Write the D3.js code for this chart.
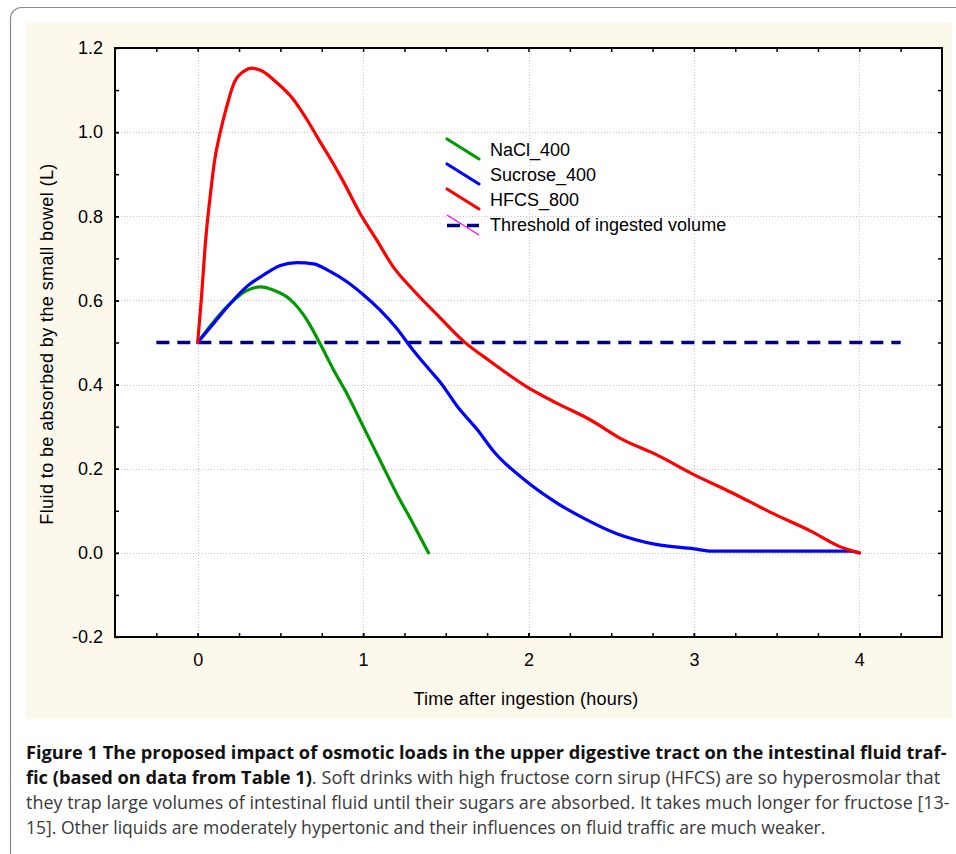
<!DOCTYPE html>
<html>
<head>
<meta charset="utf-8">
<script src="https://cdn.jsdelivr.net/npm/d3@7"></script>
<style>
  html, body { margin: 0; padding: 0; background: #fff; }
  svg { display: block; }
  .ax text { font-family: "Liberation Sans", Arial, sans-serif; font-size: 18px; fill: #000; }
</style>
</head>
<body>
<div id="chart"></div>
<script>
/* Fluid to be absorbed by the small bowel — NaCl / sucrose / HFCS curves
   values (hours, litres) */
const naclT = [0, 0.10, 0.20, 0.30, 0.38, 0.46, 0.56, 0.66, 0.74, 0.82, 0.90, 1.00, 1.10, 1.20, 1.30, 1.395];
const naclV = [0.5, 0.551, 0.594, 0.624, 0.632, 0.624, 0.602, 0.554, 0.497, 0.436, 0.380, 0.301, 0.222, 0.143, 0.071, 0.0];

const sucroseT = [0, 0.10, 0.20, 0.30, 0.40, 0.50, 0.60, 0.70, 0.80, 0.90, 1.00, 1.10, 1.20, 1.30, 1.40, 1.47,
  1.57, 1.69, 1.79, 2.00, 2.17, 2.33, 2.53, 2.77, 3.00, 3.11, 3.95, 4.00];
const sucroseV = [0.5, 0.547, 0.594, 0.634, 0.661, 0.683, 0.690, 0.687, 0.669, 0.645, 0.614, 0.578, 0.535, 0.483, 0.436, 0.404,
  0.348, 0.293, 0.241, 0.166, 0.119, 0.083, 0.046, 0.020, 0.0095, 0.004, 0.004, 0.0];

const hfcsT = [0, 0.02, 0.05, 0.08, 0.10, 0.14, 0.17, 0.22, 0.28, 0.33, 0.38, 0.48, 0.58, 0.66, 0.74, 0.82, 0.88, 0.98,
  1.08, 1.18, 1.30, 1.45, 1.61, 1.77, 2.00, 2.17, 2.37, 2.57, 2.77, 3.00, 3.23, 3.47, 3.71, 3.875, 4.00];
const hfcsV = [0.5, 0.594, 0.752, 0.863, 0.927, 1.006, 1.053, 1.117, 1.145, 1.152, 1.147, 1.117, 1.077, 1.030, 0.977, 0.925, 0.883, 0.808,
  0.745, 0.681, 0.626, 0.565, 0.502, 0.455, 0.392, 0.356, 0.317, 0.269, 0.234, 0.186, 0.143, 0.095, 0.051, 0.016, 0.0];

const thresholdT = [-0.25, 4.25];
const thresholdV = [0.5, 0.5];

const seriesNames = ["NaCl_400", "Sucrose_400", "HFCS_800", "Threshold of ingested volume"];
const seriesColors = ["#009a00", "#0000ff", "#ff0000", "#000080"];

const xTicks = [0, 1, 2, 3, 4];
const yTicks = [-0.2, 0.0, 0.2, 0.4, 0.6, 0.8, 1.0, 1.2];
const xMinor = d3.range(-0.25, 4.3, 0.25);
const yMinor = d3.range(-0.1, 1.15, 0.1);

const xTitle = "Time after ingestion (hours)";
const yTitle = "Fluid to be absorbed by the small bowel (L)";

const captionBold1 = "Figure 1 The proposed impact of osmotic loads in the upper digestive tract on the intestinal fluid traf-";
const captionBold2 = "fic (based on data from Table 1)";
const captionRest2 = ". Soft drinks with high fructose corn sirup (HFCS) are so hyperosmolar that";
const captionLine3 = "they trap large volumes of intestinal fluid until their sugars are absorbed. It takes much longer for fructose [13-";
const captionLine4 = "15]. Other liquids are moderately hypertonic and their influences on fluid traffic are much weaker.";

(function () {
  const W = 956, H = 854;
  const P = { l: 115, r: 942, t: 48, b: 637 };

  const svg = d3.select("#chart").append("svg")
    .attr("width", W).attr("height", H).attr("viewBox", `0 0 ${W} ${H}`);

  // outer rounded box (runs off the right / bottom edges) and the cream panel
  svg.append("rect")
    .attr("x", 10.5).attr("y", 7.5).attr("width", 980).attr("height", 900)
    .attr("rx", 11).attr("fill", "none").attr("stroke", "#8a8a8a").attr("stroke-width", 1.2);
  svg.append("rect")
    .attr("x", 25).attr("y", 23).attr("width", 927).attr("height", 696)
    .attr("fill", "#fdf8ec");

  const x = d3.scaleLinear().domain([-0.5, 4.5]).range([P.l, P.r]);
  const y = d3.scaleLinear().domain([-0.2, 1.2]).range([P.b, P.t]);

  svg.append("rect")
    .attr("x", P.l).attr("y", P.t).attr("width", P.r - P.l).attr("height", P.b - P.t)
    .attr("fill", "#fff");

  /* dotted grid */
  const grid = svg.append("g").attr("stroke", "#c4c4c4").attr("stroke-width", 1).attr("stroke-dasharray", "1,2");
  grid.selectAll("line.gx").data(xTicks).join("line")
    .attr("x1", d => Math.round(x(d)) + 0.5).attr("x2", d => Math.round(x(d)) + 0.5)
    .attr("y1", P.t).attr("y2", P.b);
  grid.selectAll("line.gy").data(yTicks.filter(v => v > -0.2 && v < 1.2)).join("line")
    .attr("y1", d => Math.round(y(d)) + 0.5).attr("y2", d => Math.round(y(d)) + 0.5)
    .attr("x1", P.l).attr("x2", P.r);

  /* inward ticks on all four sides */
  const tk = 4;
  const mk = (gen) => gen.tickSize(-tk).tickFormat("");
  svg.append("g").attr("class", "ax").attr("transform", `translate(0,${P.b})`)
    .call(mk(d3.axisBottom(x).tickValues(xMinor)));
  svg.append("g").attr("class", "ax").attr("transform", `translate(0,${P.t})`)
    .call(mk(d3.axisTop(x).tickValues(xMinor)));
  svg.append("g").attr("class", "ax").attr("transform", `translate(${P.l},0)`)
    .call(mk(d3.axisLeft(y).tickValues(yMinor)));
  svg.append("g").attr("class", "ax").attr("transform", `translate(${P.r},0)`)
    .call(mk(d3.axisRight(y).tickValues(yMinor)));

  const fmtY = v => (v < 0 ? "-" : "") + Math.abs(v).toFixed(1);
  svg.append("g").attr("class", "ax").attr("transform", `translate(0,${P.b})`)
    .call(d3.axisBottom(x).tickValues(xTicks).tickSize(-tk).tickPadding(16).tickFormat(d3.format("d")));
  svg.append("g").attr("class", "ax").attr("transform", `translate(${P.l},0)`)
    .call(d3.axisLeft(y).tickValues(yTicks).tickSize(-tk).tickPadding(12).tickFormat(fmtY));
  svg.selectAll(".ax .domain").remove();
  svg.selectAll(".ax line").attr("stroke", "#000").attr("stroke-width", 1.5);

  svg.append("rect")
    .attr("x", P.l).attr("y", P.t).attr("width", P.r - P.l).attr("height", P.b - P.t)
    .attr("fill", "none").attr("stroke", "#000").attr("stroke-width", 2);

  /* series */
  const line = d3.line().x(d => x(d[0])).y(d => y(d[1])).curve(d3.curveMonotoneX);
  const zipped = (ts, vs) => ts.map((t, i) => [t, vs[i]]);
  const plot = svg.append("g").attr("fill", "none").attr("stroke-linejoin", "round").attr("stroke-linecap", "round");

  plot.append("path").datum(zipped(thresholdT, thresholdV))
    .attr("d", d3.line().x(d => x(d[0])).y(d => y(d[1])))
    .attr("stroke", seriesColors[3]).attr("stroke-width", 3.5)
    .attr("stroke-dasharray", "13,8").attr("stroke-linecap", "butt");
  plot.append("path").datum(zipped(naclT, naclV)).attr("d", line)
    .attr("stroke", seriesColors[0]).attr("stroke-width", 3.2);
  plot.append("path").datum(zipped(sucroseT, sucroseV)).attr("d", line)
    .attr("stroke", seriesColors[1]).attr("stroke-width", 3.2);
  plot.append("path").datum(zipped(hfcsT, hfcsV)).attr("d", line)
    .attr("stroke", seriesColors[2]).attr("stroke-width", 3.2);

  /* legend: diagonal swatches */
  const lg = svg.append("g").attr("class", "ax");
  const lx0 = 447, lx1 = 479, ltx = 490;
  seriesNames.forEach((name, i) => {
    const by = 156 + i * 25;
    if (i < 3) {
      lg.append("line").attr("x1", lx0).attr("y1", by - 17).attr("x2", lx1).attr("y2", by + 3)
        .attr("stroke", seriesColors[i]).attr("stroke-width", 3.2).attr("stroke-linecap", "round");
    } else {
      lg.append("line").attr("x1", lx0).attr("y1", by - 16).attr("x2", lx1).attr("y2", by + 4)
        .attr("stroke", "#ff00ff").attr("stroke-width", 1.2);
      lg.append("line").attr("x1", lx0).attr("y1", by - 5.5).attr("x2", lx1).attr("y2", by - 5.5)
        .attr("stroke", seriesColors[3]).attr("stroke-width", 3.5).attr("stroke-dasharray", "13,7");
    }
    lg.append("text").attr("x", ltx).attr("y", by).text(name);
  });

  /* axis titles */
  svg.append("text")
    .attr("x", 526).attr("y", 705).attr("text-anchor", "middle")
    .style("font-family", "'Liberation Sans', Arial, sans-serif").style("font-size", "18px")
    .style("letter-spacing", "0.2px")
    .text(xTitle);
  svg.append("text")
    .attr("transform", "translate(53,344) rotate(-90)")
    .attr("text-anchor", "middle")
    .style("font-family", "'Liberation Sans', Arial, sans-serif").style("font-size", "18px")
    .style("letter-spacing", "0.4px")
    .text(yTitle);

  /* caption, squeezed to the reference line widths */
  const cap = svg.append("g")
    .style("font-family", "'Open Sans', 'Noto Sans', sans-serif").style("font-size", "18px");
  const capLines = [
    { y: 759, w: 921, parts: [[captionBold1, true]] },
    { y: 784, w: 915, parts: [[captionBold2, true], [captionRest2, false]] },
    { y: 809, w: 924, parts: [[captionLine3, false]] },
    { y: 834, w: 800, parts: [[captionLine4, false]] }
  ];
  capLines.forEach(L => {
    const t = cap.append("text").attr("x", 0).attr("y", 0);
    L.parts.forEach(([s, b]) => t.append("tspan")
      .attr("font-weight", b ? 700 : 400)
      .attr("fill", b ? "#111" : "#3a3a3a")
      .text(s));
    const w = t.node().getComputedTextLength();
    t.attr("transform", `translate(26,${L.y}) scale(${L.w / w},1)`);
  });
})();
</script>
</body>
</html>
